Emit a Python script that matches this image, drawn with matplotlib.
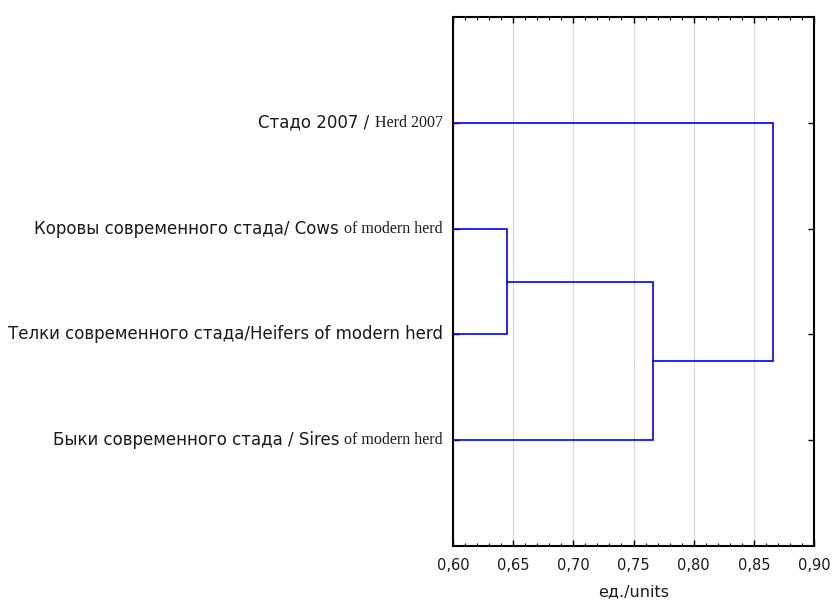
import numpy as np
from matplotlib import pyplot as plt
from matplotlib.ticker import MultipleLocator, FuncFormatter
from matplotlib.transforms import offset_copy

# leaf labels, top to bottom: (sans part, serif part)
leaf_sans = ['Стадо 2007 / ', 'Коровы современного стада/ Cows ',
             'Телки современного стада/Heifers of modern herd', 'Быки современного стада / Sires ']
leaf_serif = ['Herd 2007', 'of modern herd', '', 'of modern herd']

# merges: (node a, node b, linkage distance); new nodes numbered from 4
merges = [(1, 2, 0.645), (4, 3, 0.766), (5, 0, 0.866)]

x_min, x_max = 0.60, 0.90
line_color = '#0000ff'
sans = 'DejaVu Sans'

fig = plt.figure(figsize=(8.32, 6.10), dpi=100)
ax = fig.add_axes([453 / 832, 64 / 610, 361 / 832, 529 / 610])

# node positions: leaves sit at x_min
ypos = {i: i + 1 for i in range(len(leaf_sans))}
xpos = {i: x_min for i in range(len(leaf_sans))}
for k, (a, b, h) in enumerate(merges):
    ax.plot([xpos[a], h, h, xpos[b]], [ypos[a], ypos[a], ypos[b], ypos[b]],
            color=line_color, lw=1.2, solid_joinstyle='miter', zorder=3)
    node = len(leaf_sans) + k
    ypos[node] = (ypos[a] + ypos[b]) / 2
    xpos[node] = h

ax.set_xlim(x_min, x_max)
ax.set_ylim(len(leaf_sans) + 1, 0)
ax.xaxis.set_major_locator(MultipleLocator(0.05))
ax.xaxis.set_minor_locator(MultipleLocator(0.01))
ax.xaxis.set_major_formatter(FuncFormatter(lambda v, p: f'{v:.2f}'.replace('.', ',')))
ax.set_yticks(range(1, len(leaf_sans) + 1))
ax.set_yticklabels([])
ax.tick_params(axis='both', which='both', direction='in', top=True, right=True, color='black')
ax.tick_params(axis='x', which='major', length=4, width=1, labelsize=10.5, pad=9)
ax.tick_params(axis='x', which='minor', length=2.5, width=0.8)
ax.tick_params(axis='y', which='major', length=4, width=1)
for lab in ax.get_xticklabels():
    lab.set_family(sans)
    lab.set_color('#1a1a1a')
ax.grid(axis='x', which='major', color='#d9d9d9', lw=0.9)
ax.set_axisbelow(True)
for s in ax.spines.values():
    s.set_linewidth(1.5)

ax.set_xlabel('ед./units', family=sans, fontsize=11.5, color='#1a1a1a', labelpad=8)

# leaf labels: serif tail right-aligned at the axis, sans head placed before it
fig.canvas.draw()
renderer = fig.canvas.get_renderer()
for i, (s1, s2) in enumerate(zip(leaf_sans, leaf_serif)):
    base = offset_copy(ax.get_yaxis_transform(), fig=fig, x=-10, y=0, units='dots')
    width = 0
    if s2:
        t2 = ax.text(0, i + 1, s2, transform=base, ha='right', va='center',
                     family='Liberation Serif', fontsize=11.5, color='#1a1a1a')
        width = t2.get_window_extent(renderer).width
    tr = offset_copy(ax.get_yaxis_transform(), fig=fig, x=-10 - width, y=0, units='dots')
    ax.text(0, i + 1, s1, transform=tr, ha='right', va='center',
            family=sans, fontsize=12, color='#1a1a1a')

fig.savefig('out.png', dpi=100)
